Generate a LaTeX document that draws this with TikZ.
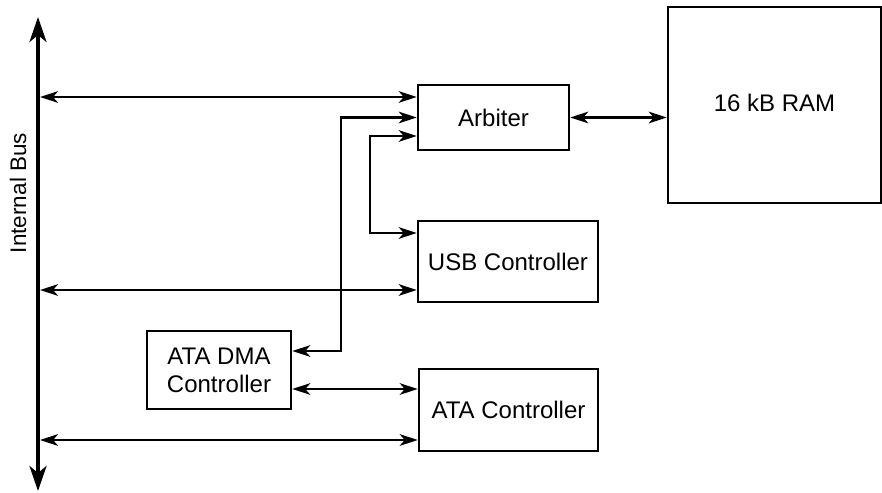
\documentclass[tikz,border=0pt]{standalone}
\usepackage{fontspec}
\setmainfont{Liberation Sans}
\usepackage{tikz}
\usetikzlibrary{arrows.meta,positioning,calc}

\begin{document}
\begin{tikzpicture}[
    x=0.5pt, y=-0.5pt,
    block/.style={rectangle, draw, line width=1.25pt, inner sep=0pt,
                  align=center, font=\fontsize{12}{14}\selectfont},
    link/.style={{Stealth[length=9pt, width=5.8pt, inset=2.5pt]}-{Stealth[length=9pt, width=5.8pt, inset=2.5pt]},
                 line width=1.2pt},
    bus/.style={{Stealth[length=12.5pt, width=8.5pt, inset=3.5pt]}-{Stealth[length=12.5pt, width=8.5pt, inset=3.5pt]},
                line width=1.7pt},
    buslabel/.style={font=\fontsize{11.25}{13}\selectfont, rotate=90}
]
\useasboundingbox (0,0) rectangle (882,492);

% Blocks
\node[block, minimum width=75.5pt, minimum height=32.5pt] (arb) at (493.5,117.5) {Arbiter};
\node[block, minimum width=106.5pt, minimum height=98pt] (ram) at (774.5,105) {\raisebox{2.5pt}{16 kB RAM}};
\node[block, minimum width=90pt, minimum height=40.5pt] (usb) at (508,261.5) {USB Controller};
\node[block, minimum width=72pt, minimum height=39pt] (dma) at (219,370) {ATA DMA\\Controller};
\node[block, minimum width=89.5pt, minimum height=41pt] (ata) at (508.5,410) {ATA Controller};

% Bus
\coordinate (bustop) at (38,17);
\coordinate (busbot) at (38,491);
\draw[bus] (busbot) -- (bustop);
\node[buslabel] (buslbl) at (18,193) {Internal Bus};
\coordinate (b1) at (40,97);
\coordinate (b2) at (40,290);
\coordinate (b3) at (40,440);

% Arrows
\draw[link] (b1) -- (b1 -| arb.west);
\draw[link] (b2) -- (b2 -| usb.west);
\draw[link] (b3) -- (b3 -| ata.west);
\draw[link] (arb.east) -- (arb.east -| ram.west);
\draw[link] (arb.west) -- ++(-76,0) |- ([yshift=9.5pt]dma.east);
\draw[link] ([yshift=-9.25pt]arb.west) -- ++(-47,0) |- ([yshift=14.25pt]usb.west);
\draw[link] ([yshift=-9.5pt]dma.east) -- ([yshift=-9.5pt]dma.east -| ata.west);
\end{tikzpicture}
\end{document}
